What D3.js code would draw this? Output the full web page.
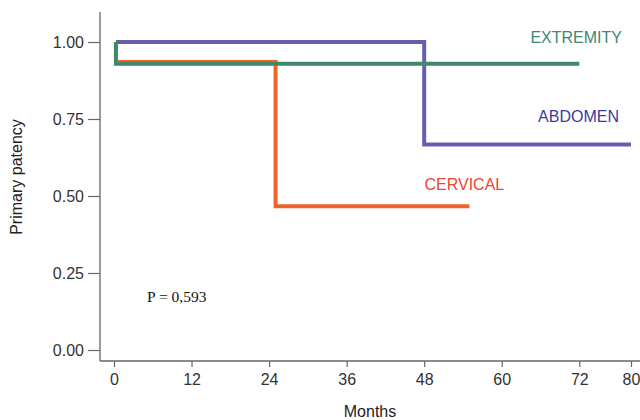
<!DOCTYPE html>
<html>
<head>
<meta charset="utf-8">
<script src="https://cdn.jsdelivr.net/npm/d3@7"></script>
<style>
  html, body { margin: 0; padding: 0; background: #fff; }
  svg { display: block; }
</style>
</head>
<body>
<svg id="chart" width="640" height="420"></svg>
<script>
// ---- data ----
const xTicks = [0, 12, 24, 36, 48, 60, 72, 80];
const yTicks = [0, 0.25, 0.5, 0.75, 1.0];
const seriesNames = ["ABDOMEN", "CERVICAL", "EXTREMITY"];
// Kaplan-Meier step points: [month, survival]
const abdomen = [[0.3, 1.0], [48, 0.667], [80, 0.667]];
const cervical = [[0.3, 0.935], [25, 0.467], [55, 0.467]];
const extremity = [[0.3, 1.0], [0.3, 0.929], [72, 0.929]];
const pValueText = "P = 0,593";
const xTitle = "Months";
const yTitle = "Primary patency";

// ---- layout ----
const svg = d3.select("#chart");
const x = d3.scaleLinear().domain([0, 80]).range([114, 631]);
const y = d3.scaleLinear().domain([0, 1]).range([350, 42]);
const axisColor = "#666";
const font = "Liberation Sans, Arial, sans-serif";

// axes
const xAxisY = 361, yAxisX = 100;
const gx = svg.append("g").attr("transform", `translate(0,${xAxisY})`)
  .call(d3.axisBottom(x).tickValues(xTicks).tickFormat(d3.format("d")).tickSize(6).tickSizeOuter(0));
gx.select(".domain").remove();
gx.selectAll(".tick line").attr("stroke", axisColor).attr("stroke-width", 1.2);
gx.selectAll(".tick text").attr("font-family", font).attr("font-size", 16).attr("fill", "#333").attr("dy", "0.95em");

const gy = svg.append("g").attr("transform", `translate(${yAxisX},0)`)
  .call(d3.axisLeft(y).tickValues(yTicks).tickFormat(d3.format(".2f")).tickSize(12).tickSizeOuter(0));
gy.select(".domain").remove();
gy.selectAll(".tick line").attr("stroke", axisColor).attr("stroke-width", 1.2);
gy.selectAll(".tick text").attr("font-family", font).attr("font-size", 16).attr("fill", "#333").attr("x", -16);

svg.append("line").attr("x1", yAxisX).attr("x2", yAxisX).attr("y1", 12).attr("y2", xAxisY)
  .attr("stroke", axisColor).attr("stroke-width", 1.3);
svg.append("line").attr("x1", yAxisX).attr("x2", 640).attr("y1", xAxisY).attr("y2", xAxisY)
  .attr("stroke", axisColor).attr("stroke-width", 1.3);

// titles
svg.append("text").attr("x", 370).attr("y", 417).attr("text-anchor", "middle")
  .attr("font-family", font).attr("font-size", 16).attr("fill", "#222").text(xTitle);
svg.append("text").attr("transform", "translate(22,177) rotate(-90)").attr("text-anchor", "middle")
  .attr("font-family", font).attr("font-size", 16).attr("fill", "#222").text(yTitle);

// curves
const line = d3.line().x(d => x(d[0])).y(d => y(d[1])).curve(d3.curveStepAfter);
const curves = [
  { data: abdomen, color: "#6660ac" },
  { data: cervical, color: "#f26328" },
  { data: extremity, color: "#3d8a66" }
];
svg.selectAll("path.km").data(curves).enter().append("path")
  .attr("class", "km")
  .attr("d", d => line(d.data))
  .attr("fill", "none")
  .attr("stroke", d => d.color)
  .attr("stroke-width", 4)
  .attr("stroke-linejoin", "miter")
  .attr("stroke-linecap", "butt");

// labels
const labels = [
  { text: seriesNames[2], xv: 80, yv: 1.0, color: "#3e8676", dx: -9, dy: 1 },
  { text: seriesNames[0], xv: 80, yv: 0.75, color: "#3b3b9c", dx: -12, dy: 3 },
  { text: seriesNames[1], xv: 61, yv: 0.5, color: "#ee4433", dx: -4, dy: -6 }
];
svg.selectAll("text.lbl").data(labels).enter().append("text")
  .attr("class", "lbl")
  .attr("x", d => x(d.xv) + d.dx)
  .attr("y", d => y(d.yv) + d.dy)
  .attr("text-anchor", "end")
  .attr("font-family", font)
  .attr("font-size", 16)
  .attr("fill", d => d.color)
  .text(d => d.text);

// p value
svg.append("text").attr("x", 147).attr("y", 302)
  .attr("font-family", "Liberation Serif, Times New Roman, serif").attr("font-size", 15.5)
  .attr("fill", "#111").text(pValueText);
</script>
</body>
</html>
